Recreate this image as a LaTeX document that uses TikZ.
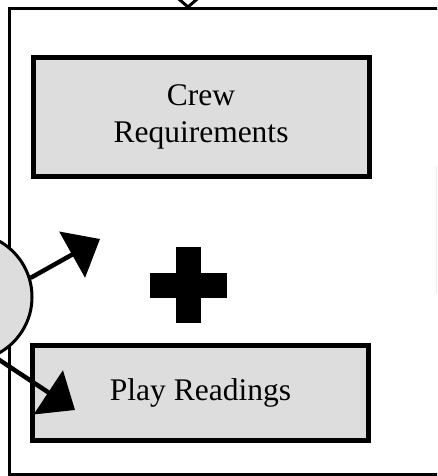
\documentclass[tikz,border=0pt]{standalone}
\usepackage{fontspec}
\setmainfont{Liberation Serif}
\usetikzlibrary{arrows.meta}
\definecolor{boxgray}{HTML}{DDDDDD}
\tikzset{
    stagebox/.style={draw=black, line width=5pt, fill=boxgray, minimum width=336pt, inner sep=0pt, align=center, font=\fontsize{31.5}{37}\selectfont},
    bigarrow/.style={black, line width=4.5pt, -{Triangle[length=32pt, width=52pt]}},
}

\begin{document}
\begin{tikzpicture}[x=1pt, y=-1pt]
        \clip (0,0) rectangle (437,476);

        \node[draw=black, line width=3pt, outer sep=0pt, inner sep=0pt, minimum width=480pt, minimum height=465pt, anchor=north west] (panel) at (9,9) {};
        \draw[black!8, line width=1pt] (436.5,167) -- (436.5,293);

        \node[stagebox, minimum height=119pt] (crew) at (201,117.2) {Crew\\Requirements};
        \node[stagebox, minimum height=95pt] (play) at (200.5,393.2) {Play Readings};

        \fill[black] (176,247) rectangle (201,323);
        \fill[black] (150,273) rectangle (227,298);

        \node[circle, draw=black, line width=3pt, fill=boxgray, minimum size=128pt] (idea) at (-32,297) {};

        \coordinate (tipa) at (100,239);
        \coordinate (tipb) at (75,410);
        \draw[bigarrow] (idea.17) -- (tipa);
        \draw[bigarrow] (idea.-66) -- (tipb);

        \coordinate (entry) at (188,-60);
        \draw[black, line width=3pt, -{Triangle[open, fill=white, length=22pt, width=50pt]}] (entry) -- (entry |- panel.north);
\end{tikzpicture}
\end{document}
